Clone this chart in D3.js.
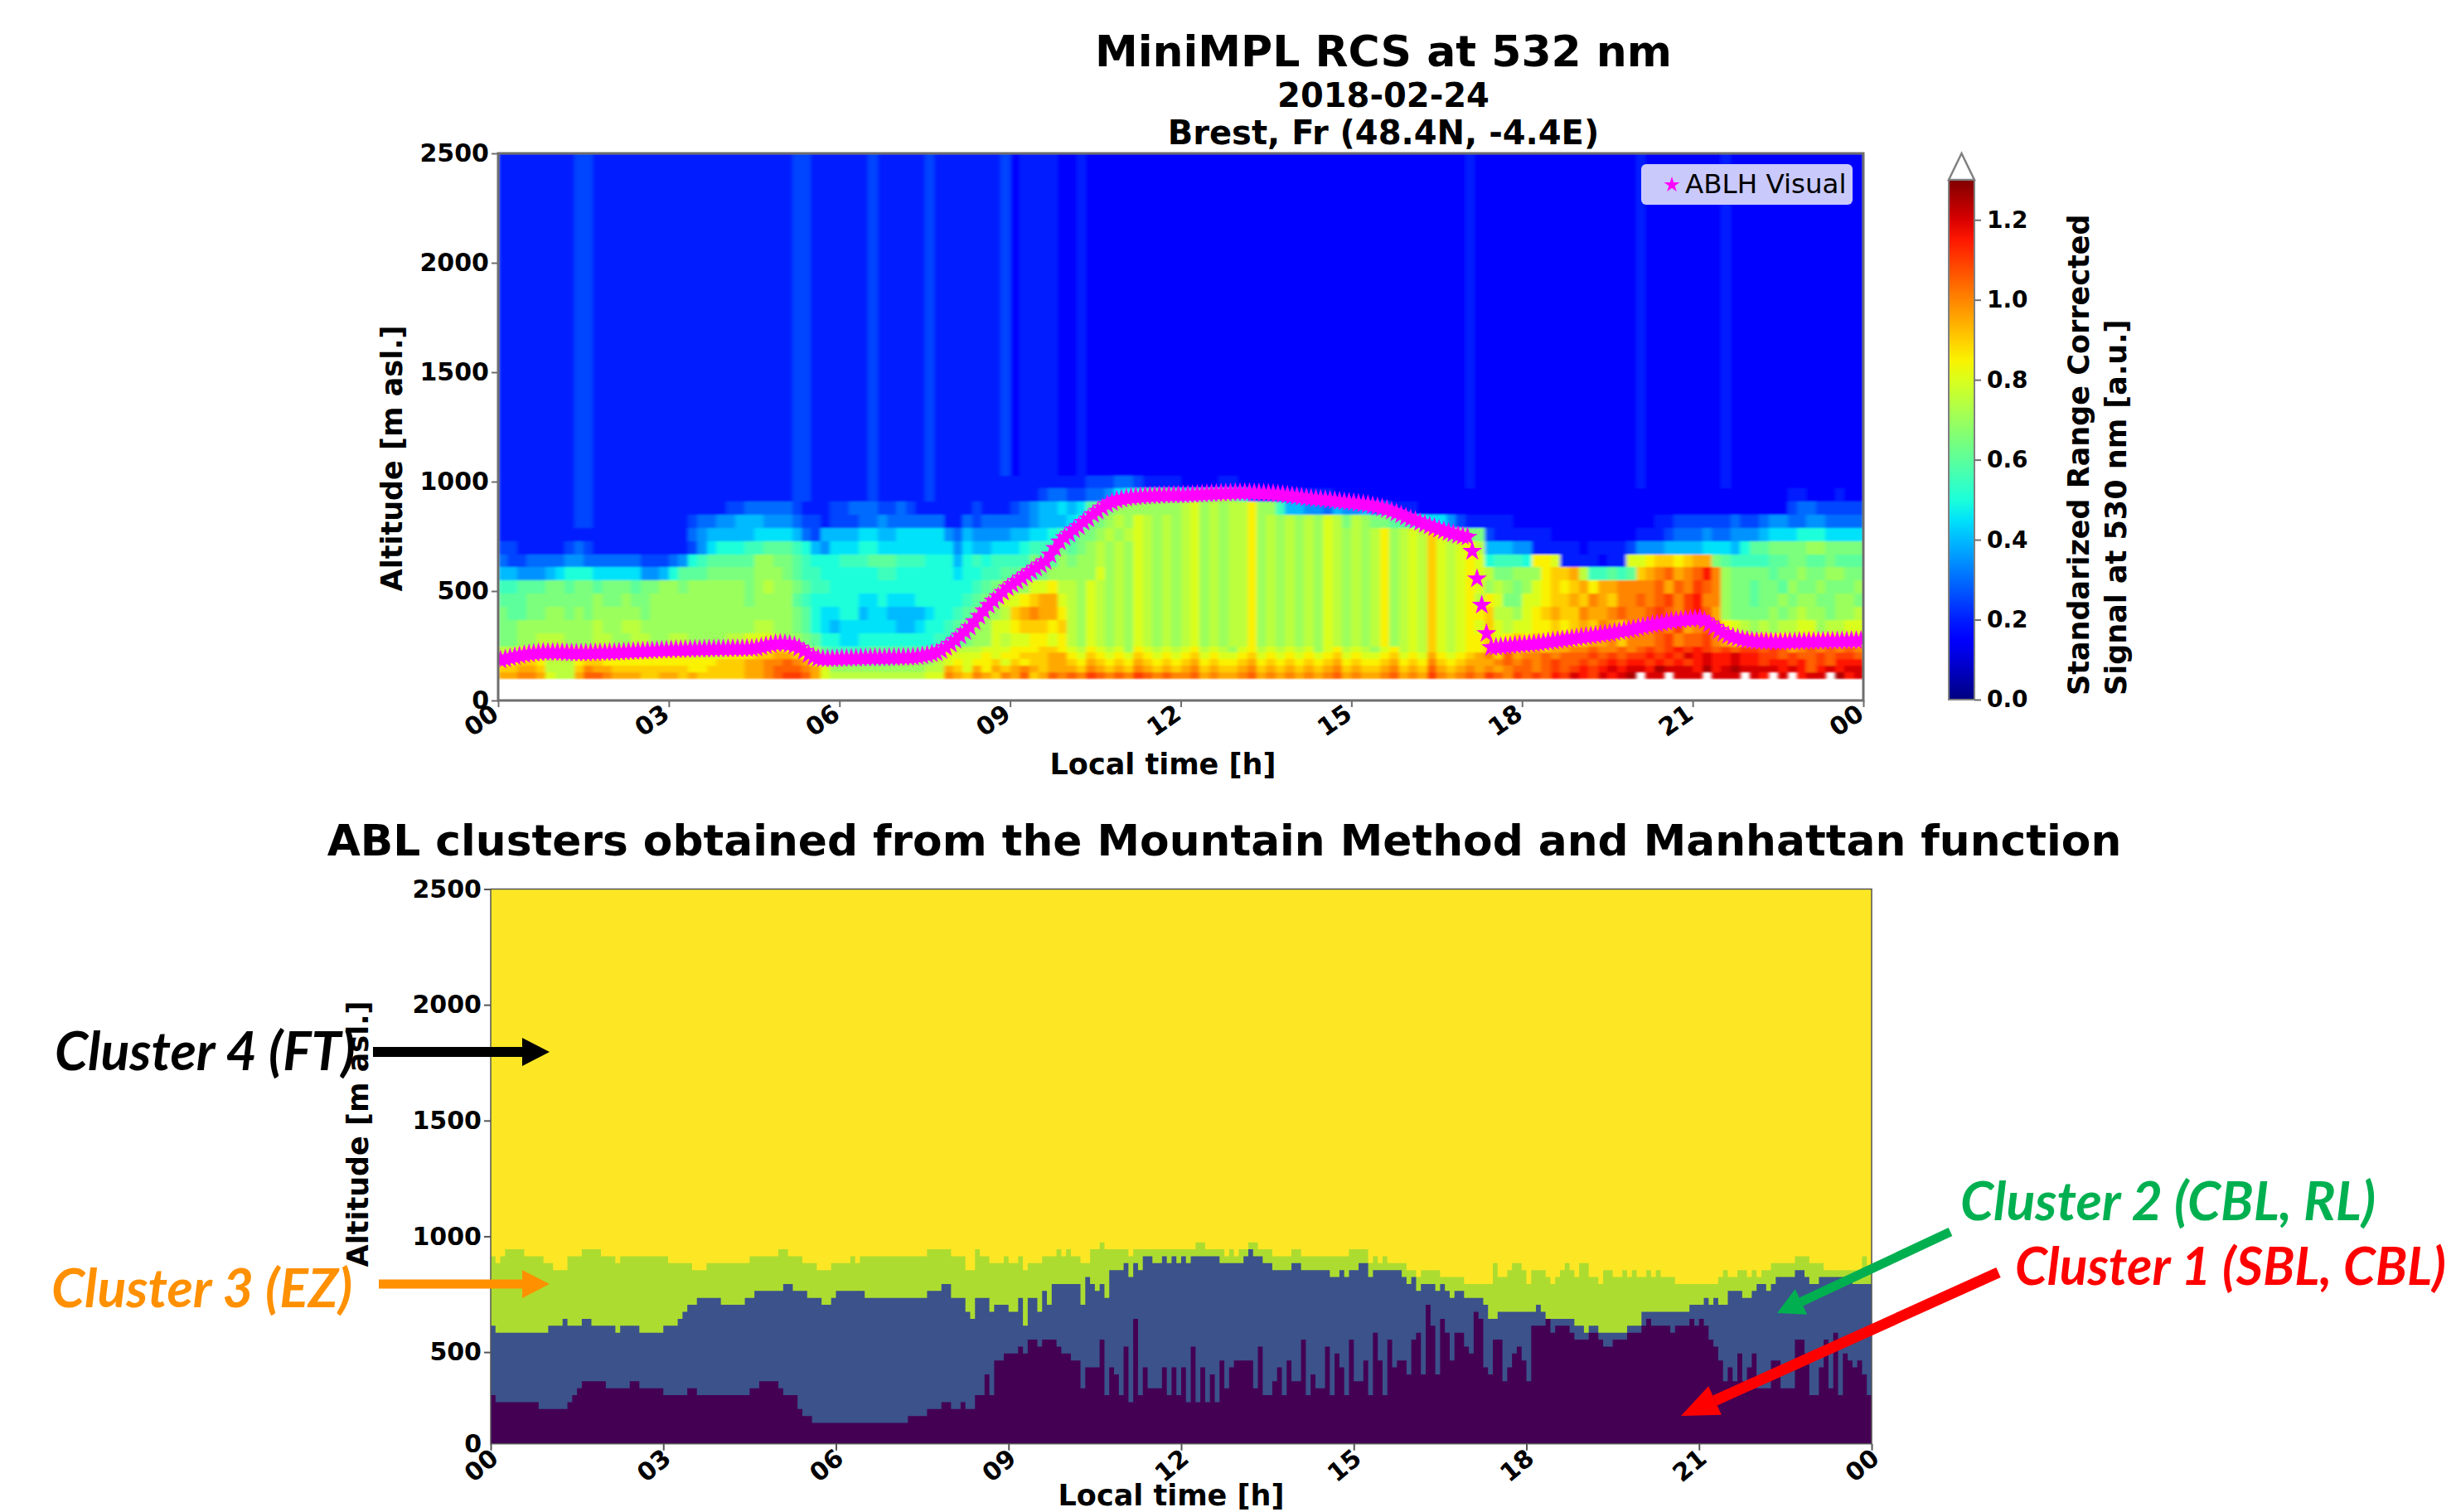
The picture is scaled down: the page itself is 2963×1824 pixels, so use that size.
<!DOCTYPE html>
<html>
<head>
<meta charset="utf-8">
<script src="https://cdn.jsdelivr.net/npm/d3@7/dist/d3.min.js"></script>
<style>
  body { margin: 0; background: #fff; }
  svg { display: block; font-family: "DejaVu Sans", sans-serif; }
  .tick text { font-family: "DejaVu Sans", sans-serif; font-size: 30px; font-weight: bold; fill: #000; }
  .note { font-family: Lato, sans-serif; font-weight: bold; font-style: italic; }
</style>
</head>
<body>
<div id="chart"></div>
<script>
const hourTicks = [0, 3, 6, 9, 12, 15, 18, 21, 24];
const altTicksTop = [0, 500, 1000, 1500, 2000, 2500];
const altTicksBottom = [500, 1000, 1500, 2000, 2500];
const cbarTicks = [0, 0.2, 0.4, 0.6, 0.8, 1.0, 1.2];

// lower edge of each altitude band of the RCS panel [m], last one closes the top
const rcsBands = [100, 130, 160, 190, 220, 250, 310, 370, 430, 490, 550, 610, 670, 730, 790, 850, 910, 970, 1030, 1500, 2500];

// one string per band, bottom band first, one letter per 10 min (12 letters = 2 h)
// a=0.00 b=0.05 c=0.10 ... u=1.00 ... z=1.25, '.' = no data
const rcsRows = [
  'ttuutqpptvvu tttssttstsss ssttuvwwvtqp pppppppppqqu tsutsutvstvu vuwvuvuwvuvu uvtuttuvtutu tutuvtuttuvt utwutuvuwvuw vwvxwyxwyxyz .yy.yyy.yyy. yx.y.xyy.zxy',
  'ssttspppsutt ssssssssrrss ssttuvvvutqo oooooooooppt sqtrtstutstt tsutstsutsts tustsstustst ststustsstus tsvtstututuv vuvwvwxwxyxy yxzyyyxzxyzy yyyxyxvxyxyy',
  'rrssrppprssr rrrrrrrrrrrs ssttuuvutqoo nnnnnnoooopq rqrrsqsrsstt srtsrsrtsrsr strsrrstrsrs rsrstrsrrstr srusrstttuvu vuvwvvwvwxwx xwxwxwxyxxyx xwxxwxvwvxxx',
  'pqqqqqrqqqrq qrrrrrrrqqqq rrrssttsronn nnnnnnnnnooq qqqrqrrssstt rqsrqrqsrqrq rsqrqqrsqrqr qrqrsqrqqrsq rqtrqrstusvt uuvuvvvwvwvw wxwxwyxyxxyx xwwvwvvwvwwv',
  'ppqqqqqqqqqq qqqqqqqqqqqq qqqrrsrqpoml lllmmmmmmnnq pppqqqrrrssr qprqpqorqpqp qrpqpoqrpqpq pqoqrpqpoqrp qpsqpqrrssts ststtuuvuuvu vwvwxwxwvwvw wvwvtuvuvuvu',
  'nnoopppooopp ooppooppoooo ppqqqpoonmkk jjkkkkkkkkll mnooqpqqrrqr poqpopoqpopo pqopoppropop opoqpopoprop qpsqpqrrsqrs rsrstssttusu uuvwuvvwutst ssrrqqrrrqqq',
  'nnoooooooopo oppooooooooo oooppoonmkji jjjjjjiijkkl mnooqqrsssrs poqpopoqpopo pqopoppropop opoqpopoprop qpsqpqrqsqpq qrrsrstsutsu tuvuwtuvurqp opoppqqoppqq',
  'nmmnnoononoo ooonoooooooo ooooooonmkjj kkijjiiiijkk lmnoopstuttr poqpopoqpopo pqopoppropop opoqpopoprop qpsqpqrrsppo qrstssuttuvu uvwvuwxvtonn nnonopoonoop',
  'mmmnnnnnnnon nonnoooooooo oonoooomlkkk kkjjkjjjkkkk klmnnqqrsttq poqpopoqpopo pqopoppropop opoqpopoprop qpsqpqrprqnn qqrsstsutsuu vuvwuwxuuonn mnnonoonnoon',
  'llmmmnnmnnmn nnmnnoonoooo oonopoonmllk kkkkkkkkkkkk kklmnoooqqrp poqpopoqpopo pqopoppropop opoqpopoprop qpsqpqrqopon oqrsrstrttuu uuvtvuwvuonn mnnmonnonnno',
  'iihhhijkkkjj jjjhhikmmmnn nnnooonmllkk kkkkllkkkkkk jkkllmmnmnoo oooqopoqpopo pqopoppropop opoqpopoprop qpsqpqrqpnno oorsstpllmlm stuvtuvxuonn nnmnnonnoonn',
  'gffgggghhggg gggfffghklmm mmmoonnmlkkk lllmmmlllkkk iklkllllnmmo noopopoqpopo pqopoppropop opoqpopoprop qpsqpqrqklll krrqeeeedeeq qrssrsttnmll llmmnnmmnmmm',
  'ffeeeeefgfee eeeeeeeefhjk kkllmmmlkihj jjkkjjjjjjjj hjiijjjkllln mnopopoqpopo pqopoppropop opoqpopoprop qpsqpqrpiiih heeeeedeeeef hhhiiiijjjik mmnnnnoonnnn',
  'eeeeeeeeeeee eeeeeeeeghii iiijjjjigfii iijjiijjjjjh gihhhhiijjkl lnnopopqpopo pqopoppropop opoqpopoprop qpsqoonnfeee eeeddddddddd eeefggghgghh hijjjkkkjjjj',
  'eeeeeeeeffee eeeeeeeefggh hiiihhhgffef ffgghgggggge egfggggghiii jknnopoqpopo pqopoppropop opoqpnponnmm lkjjhfeeeeed dddddddddddd ddeeffffffgf fghhgghhgggg',
  'eeeeeeeeffee eeeeeeeeeeee ffgggggfeeef fgggffgfeeee eefeeefghiij ijmnnooooooo pqopopprooli ihhgihhiggee eddddddddddd dddddddddddd dddddddddddd ddddfggfffff',
  'eeeeeeeeffee eeeeeeeeeeee eeeeeeeffeee eeefeeeeefee eeeeeeeeefgg ffgghjklmnnm kmnnpnlgeeee eeeedddddddd dddddddddddd dddddddddddd dddddddddddd ddddeedddedd',
  'eeeeeeeeffee eeeeeeeeeeee eeeeeeeffeee eeefeeeeefee eeeeeeeeeeee eefffggfeeee ddddeedddddd dddddddddddd ddddddeddddd dddddddddddd eddddddddedd dddddddddddd',
  'eeeeeeeeffee eeeeeeeeeeee eeeeeeeffeee eeefeeeeefee eeeeefdeeeed dedddddddddd dddddddddddd dddddddddddd ddddddeddddd dddddddddddd eddddddddedd dddddddddddd',
  'eeeeeeeeffee eeeeeeeeeeee eeeeeeeffeee eeefeeeeefee eeeeefdeeeed dedddddddddd dddddddddddd dddddddddddd ddddddeddddd dddddddddddd eddddddddedd dddddddddddd'
];

// ABLH read every 5 min [m]
const ablhAlt = [
  185,190,195,200,205,210,213,216,218,220,220,220,
  220,219,218,217,217,217,217,218,218,219,219,220,
  220,221,222,223,224,225,226,227,228,229,230,230,
  231,232,232,233,233,234,234,235,235,235,236,236,
  236,237,237,237,238,238,240,245,250,255,260,262,
  260,256,250,240,225,210,198,192,190,190,190,191,
  192,192,193,193,194,194,195,195,195,195,196,196,
  196,197,197,198,200,204,208,213,218,228,242,258,
  275,295,315,335,360,385,410,435,455,475,495,515,
  530,545,560,575,590,605,620,635,665,695,725,745,
  760,780,795,815,830,850,865,880,895,905,915,920,
  925,928,930,932,934,935,936,937,938,938,939,939,
  939,940,941,942,943,944,945,946,947,948,949,950,
  950,950,950,949,948,947,946,945,943,941,938,935,
  932,929,926,924,922,920,918,915,913,910,908,906,
  904,901,898,895,890,885,880,873,865,857,848,838,
  830,822,813,805,797,790,782,775,768,762,755,750,
  747,682,556,436,306,242,244,246,248,250,252,254,
  256,258,260,262,265,268,271,274,277,280,283,286,
  289,292,295,298,301,304,307,311,315,319,323,327,
  332,337,342,346,350,354,358,362,365,368,370,372,
  373,374,365,350,335,320,307,297,290,284,279,275,
  272,270,269,268,268,267,267,267,268,268,269,269,
  270,270,271,271,272,272,272,273,273,274,274,274
];

// top of each cluster, in 30 m bins above the panel floor, every 5 min
const cluster1Top = [
  7,6,6,6,6,6,6,6,6,6,5,5,
  5,5,5,5,6,7,8,9,9,9,9,9,
  8,8,8,8,8,9,9,8,8,8,8,8,
  7,7,7,7,7,8,8,7,7,7,7,7,
  7,7,7,7,7,7,8,8,9,9,9,9,
  8,7,7,7,5,4,4,3,3,3,3,3,
  3,3,3,3,3,3,3,3,3,3,3,3,
  3,3,3,4,4,4,4,5,5,5,6,6,
  5,5,6,5,5,7,7,10,7,12,12,13,
  13,13,14,13,15,15,14,15,15,15,14,13,
  13,12,12,8,11,11,11,15,7,11,10,7,
  14,6,18,7,11,8,8,8,11,7,11,7,
  11,6,14,6,11,6,10,6,12,8,11,12,
  12,12,12,8,14,7,7,9,11,7,12,9,
  9,15,7,10,8,8,14,7,13,11,7,15,
  9,9,12,7,16,12,7,15,11,12,12,10,
  15,16,10,20,17,10,18,16,12,16,16,14,
  13,19,18,11,10,15,15,9,11,13,14,12,
  9,17,17,17,18,16,17,17,17,16,15,15,
  15,16,16,15,14,14,15,15,15,16,16,16,
  17,18,17,17,17,17,16,17,17,17,18,17,
  18,17,15,14,12,9,11,9,13,9,11,13,
  8,8,8,12,12,8,8,8,15,15,13,7,
  7,11,15,8,16,7,13,12,11,12,10,7
];
const cluster2Top = [
  17,16,16,16,16,16,16,16,16,16,16,16,
  17,17,17,18,17,17,17,18,18,17,17,17,
  17,17,16,17,17,17,17,16,16,16,16,16,
  17,17,17,18,19,20,20,21,21,21,21,21,
  20,20,20,20,20,21,21,22,22,22,22,22,
  22,23,23,22,22,22,21,21,21,20,20,21,
  22,22,22,22,22,22,21,21,21,21,21,21,
  21,21,21,21,21,21,21,22,22,22,23,23,
  21,21,21,19,18,21,21,21,19,20,20,20,
  19,19,21,17,21,21,19,22,20,23,23,23,
  23,23,23,20,24,23,22,23,21,25,25,25,
  26,24,26,25,27,27,26,26,27,26,27,26,
  27,26,27,27,27,27,27,27,26,26,26,26,
  26,27,28,27,27,26,26,25,25,25,25,26,
  26,25,25,25,25,25,25,24,24,25,24,25,
  25,26,26,24,25,25,25,25,25,25,24,23,
  24,22,23,23,23,22,23,22,21,22,22,21,
  21,21,21,20,18,18,19,19,19,19,19,19,
  19,19,20,19,18,18,18,18,18,18,17,17,
  16,17,17,16,16,16,16,16,16,17,17,17,
  19,19,19,19,19,19,19,19,19,19,20,20,
  20,21,20,21,20,20,22,22,22,21,21,22,
  23,23,22,23,24,24,24,24,25,25,24,23,
  23,24,24,24,24,24,24,24,23,23,23,23
];
const cluster3Top = [
  27,26,27,28,28,28,28,27,27,27,27,26,
  26,25,25,25,27,27,27,28,28,28,28,27,
  27,27,26,27,27,27,27,27,27,27,27,27,
  27,26,26,26,26,26,25,25,25,26,26,26,
  26,26,26,26,26,26,27,27,27,27,27,27,
  28,28,27,27,27,26,26,26,25,25,25,26,
  26,26,26,27,26,27,27,27,27,27,27,27,
  27,27,27,27,27,27,27,28,28,28,28,28,
  27,27,27,25,25,28,27,27,26,26,26,27,
  26,26,27,25,26,26,26,27,27,27,28,27,
  28,27,27,26,26,28,28,29,28,28,28,28,
  28,27,28,28,28,28,28,28,28,28,28,28,
  28,28,28,29,29,28,28,28,28,27,28,27,
  28,28,29,29,28,28,28,27,27,27,27,28,
  28,27,27,27,27,27,27,27,27,27,27,28,
  28,28,28,26,27,26,27,26,26,26,26,25,
  25,24,25,25,25,25,24,24,24,24,24,23,
  23,23,23,23,23,26,24,24,25,26,26,25,
  23,25,25,25,24,23,24,25,26,25,24,26,
  26,24,24,23,25,25,24,24,25,24,25,24,
  24,25,24,25,24,24,24,23,23,23,23,23,
  23,23,23,23,24,25,24,24,25,25,24,25,
  24,25,25,26,26,26,26,26,27,27,27,26,
  26,26,25,25,25,25,25,25,25,25,27,25
];

const clusterColors = ['#440154', '#3b528b', '#addc30', '#fde725'];
const clusterFloor = 104; // the lower panel is cut here, its "0" label sits at the floor
const binDepth = 30;

const svg = d3.select('#chart').append('svg').attr('width', 2963).attr('height', 1824);

// matplotlib jet on 0..1.3
const jetR = d3.scaleLinear().domain([0, 0.35, 0.66, 0.89, 1]).range([0, 0, 1, 1, 0.5]);
const jetG = d3.scaleLinear().domain([0, 0.125, 0.375, 0.64, 0.91, 1]).range([0, 0, 1, 1, 0, 0]);
const jetB = d3.scaleLinear().domain([0, 0.11, 0.34, 0.65, 1]).range([0.5, 1, 1, 0, 0]);
const jet = v => {
  const t = Math.min(1, v / 1.3);
  return d3.rgb(jetR(t) * 255, jetG(t) * 255, jetB(t) * 255).formatHex();
};

// ---- scales ----
const xTop = d3.scaleLinear().domain([0, 24]).range([601, 2248]);
const yTop = d3.scaleLinear().domain([0, 2500]).range([845, 185]);
const xBot = d3.scaleLinear().domain([0, 24]).range([592, 2258]);
const yBot = d3.scaleLinear().domain([clusterFloor, 2500]).range([1741.7, 1072.5]);

const defs = svg.append('defs');
defs.append('filter').attr('id', 'soft').attr('x', 0).attr('y', 0).attr('width', 1).attr('height', 1)
  .append('feGaussianBlur').attr('stdDeviation', '2.2 1');
const cbarGrad = defs.append('linearGradient').attr('id', 'cbar').attr('x1', 0).attr('x2', 0).attr('y1', 1).attr('y2', 0);
cbarGrad.selectAll('stop').data(d3.range(0, 1.301, 0.05)).join('stop')
  .attr('offset', d => d / 1.3).attr('stop-color', d => jet(d));
defs.append('clipPath').attr('id', 'topClip').append('rect')
  .attr('x', xTop(0)).attr('y', yTop(2500))
  .attr('width', xTop(24) - xTop(0)).attr('height', yTop(0) - yTop(2500));

function addXAxis(x, y0, turn, dx, dy, color, label, labelX, labelY) {
  const g = svg.append('g').attr('transform', `translate(0,${y0})`)
    .call(d3.axisBottom(x).tickValues(hourTicks).tickSize(8).tickSizeOuter(0)
      .tickFormat(d => d3.format('02d')(d % 24)));
  g.select('.domain').remove();
  g.selectAll('.tick line').attr('stroke', color).attr('stroke-width', 2);
  g.selectAll('.tick text')
    .attr('x', 0).attr('y', 0).attr('dy', '.35em')
    .attr('text-anchor', 'middle')
    .attr('transform', `translate(${dx},${dy}) rotate(${turn})`);
  svg.append('text').attr('x', labelX).attr('y', labelY)
    .attr('text-anchor', 'middle').style('font-size', '35px').style('font-weight', 'bold').text(label);
}

function addYAxis(y, x0, ticks, color) {
  const g = svg.append('g').attr('transform', `translate(${x0},0)`)
    .call(d3.axisLeft(y).tickValues(ticks).tickSize(8).tickSizeOuter(0).tickFormat(d3.format('d')));
  g.select('.domain').remove();
  g.selectAll('.tick line').attr('stroke', color).attr('stroke-width', 2);
  return g;
}

function addYLabel(bx, cy) {
  svg.append('text').attr('transform', `translate(${bx},${cy}) rotate(-90)`)
    .attr('text-anchor', 'middle').style('font-size', '35px').style('font-weight', 'bold')
    .text('Altitude [m asl.]');
}

// ---- RCS panel ----
const cells = [];
rcsRows.forEach((row, r) => {
  row.replace(/ /g, '').split('').forEach((ch, c) => {
    if (ch === '.') return;
    cells.push({ c, r, v: (ch.charCodeAt(0) - 97) * 0.05 });
  });
});

svg.append('g').attr('filter', 'url(#soft)')
  .selectAll('rect').data(cells).join('rect')
  .attr('x', d => xTop(d.c / 6))
  .attr('width', d => xTop((d.c + 1) / 6) - xTop(d.c / 6) + 0.5)
  .attr('y', d => yTop(rcsBands[d.r + 1]))
  .attr('height', d => yTop(rcsBands[d.r]) - yTop(rcsBands[d.r + 1]) + 0.5)
  .attr('fill', d => jet(d.v))
  .attr('shape-rendering', 'crispEdges');

const star = d3.symbol().type(d3.symbolStar).size(180);
svg.append('g').attr('clip-path', 'url(#topClip)')
  .selectAll('path').data(ablhAlt).join('path')
  .attr('d', star)
  .attr('transform', (d, i) => `translate(${xTop(i / 12 + 1 / 24)},${yTop(d)})`)
  .attr('fill', '#ff00ff');

svg.append('rect').attr('x', xTop(0)).attr('y', yTop(2500))
  .attr('width', xTop(24) - xTop(0)).attr('height', yTop(0) - yTop(2500))
  .attr('fill', 'none').attr('stroke', '#6e6e6e').attr('stroke-width', 3);

addXAxis(xTop, 845, -35, -21, 24, '#6e6e6e', 'Local time [h]', 1403, 934);
addYAxis(yTop, 601, altTicksTop, '#6e6e6e');
addYLabel(485, 553);

svg.append('rect').attr('x', 1980).attr('y', 198).attr('width', 255).attr('height', 49)
  .attr('rx', 6).attr('fill', '#c9c9fb');
svg.append('path').attr('d', d3.symbol().type(d3.symbolStar).size(110))
  .attr('transform', 'translate(2017,223)').attr('fill', '#ff00ff');
svg.append('text').attr('x', 2033).attr('y', 233).style('font-size', '32.5px').text('ABLH Visual');

// titles
[['MiniMPL RCS at 532 nm', 52, 80], ['2018-02-24', 40, 129], ['Brest, Fr (48.4N, -4.4E)', 40, 174]].forEach(t => {
  svg.append('text').attr('x', 1669).attr('y', t[2]).attr('text-anchor', 'middle')
    .style('font-size', t[1] + 'px').style('font-weight', 'bold').text(t[0]);
});
svg.append('text').attr('x', 1477).attr('y', 1032).attr('text-anchor', 'middle')
  .style('font-size', '51.8px').style('font-weight', 'bold')
  .text('ABL clusters obtained from the Mountain Method and Manhattan function');

// colorbar
const cbarY = d3.scaleLinear().domain([0, 1.3]).range([844, 217]);
svg.append('path').attr('d', `M2351,${cbarY(1.3)}L2366.5,185L2382,${cbarY(1.3)}Z`)
  .attr('fill', '#fff').attr('stroke', '#808080').attr('stroke-width', 2.5);
svg.append('rect').attr('x', 2351).attr('y', cbarY(1.3)).attr('width', 31)
  .attr('height', cbarY(0) - cbarY(1.3)).attr('fill', 'url(#cbar)')
  .attr('stroke', '#808080').attr('stroke-width', 2);
const cbarAxis = svg.append('g').attr('transform', 'translate(2382,0)')
  .call(d3.axisRight(cbarY).tickValues(cbarTicks).tickSize(8).tickSizeOuter(0).tickFormat(d3.format('.1f')));
cbarAxis.select('.domain').remove();
cbarAxis.selectAll('.tick line').attr('stroke', '#6e6e6e').attr('stroke-width', 2);
cbarAxis.selectAll('.tick text').attr('x', 15).style('font-size', '28px');
[['Standarized Range Corrected', 2520], ['Signal at 530 nm [a.u.]', 2565]].forEach(t => {
  svg.append('text').attr('transform', `translate(${t[1]},839) rotate(-90)`)
    .style('font-size', '35px').style('font-weight', 'bold').text(t[0]);
});

// ---- cluster panel ----
const binAlt = n => clusterFloor + n * binDepth;
const clusterArea = top => {
  const pts = top.concat(top[top.length - 1]);
  return d3.area()
    .curve(d3.curveStepAfter)
    .x((d, i) => xBot(i / 12))
    .y0(yBot(clusterFloor))
    .y1(d => yBot(binAlt(d)))(pts);
};

svg.append('rect').attr('x', xBot(0)).attr('y', yBot(2500))
  .attr('width', xBot(24) - xBot(0)).attr('height', yBot(clusterFloor) - yBot(2500))
  .attr('fill', clusterColors[3]);
[cluster3Top, cluster2Top, cluster1Top].forEach((top, i) => {
  svg.append('path').attr('d', clusterArea(top)).attr('fill', clusterColors[2 - i]);
});
svg.append('rect').attr('x', xBot(0)).attr('y', yBot(2500))
  .attr('width', xBot(24) - xBot(0)).attr('height', yBot(clusterFloor) - yBot(2500))
  .attr('fill', 'none').attr('stroke', '#555').attr('stroke-width', 1.5);

addXAxis(xBot, 1741.7, -40, -12, 26, '#555', 'Local time [h]', 1413, 1816);
addYAxis(yBot, 592, altTicksBottom, '#555');
svg.append('text').attr('x', 581).attr('y', 1752).attr('text-anchor', 'end')
  .style('font-size', '30px').style('font-weight', 'bold').text('0');
addYLabel(444, 1368);

// ---- hand annotations ----
function addArrow(x1, y1, x2, y2, color, shaft, headLen, headHalf) {
  const a = Math.atan2(y2 - y1, x2 - x1);
  const bx = x2 - headLen * Math.cos(a), by = y2 - headLen * Math.sin(a);
  const nx = -Math.sin(a), ny = Math.cos(a);
  svg.append('line').attr('x1', x1).attr('y1', y1).attr('x2', bx).attr('y2', by)
    .attr('stroke', color).attr('stroke-width', shaft);
  svg.append('path')
    .attr('d', `M${x2},${y2}L${bx + nx * headHalf},${by + ny * headHalf}L${bx - nx * headHalf},${by - ny * headHalf}Z`)
    .attr('fill', color);
}
addArrow(450, 1269, 663, 1269, '#000', 12, 33, 17);
addArrow(457, 1549, 663, 1549, '#ff9000', 11, 33, 17);
addArrow(2353, 1486, 2144, 1584, '#00b050', 11, 32, 17);
addArrow(2411, 1535, 2028, 1708, '#ff0000', 13, 45, 19);

[['Cluster 4 (FT)', 66, 1291, '#000', 64.5],
 ['Cluster 3 (EZ)', 62, 1577, '#ff9000', 64.5],
 ['Cluster 2 (CBL, RL)', 2365, 1472, '#00b050', 64.5],
 ['Cluster 1 (SBL, CBL)', 2431, 1550, '#ff0000', 62.5]].forEach(t => {
  svg.append('text').attr('class', 'note').attr('x', t[1]).attr('y', t[2])
    .attr('fill', t[3]).style('font-size', t[4] + 'px').text(t[0]);
});
</script>
</body>
</html>
